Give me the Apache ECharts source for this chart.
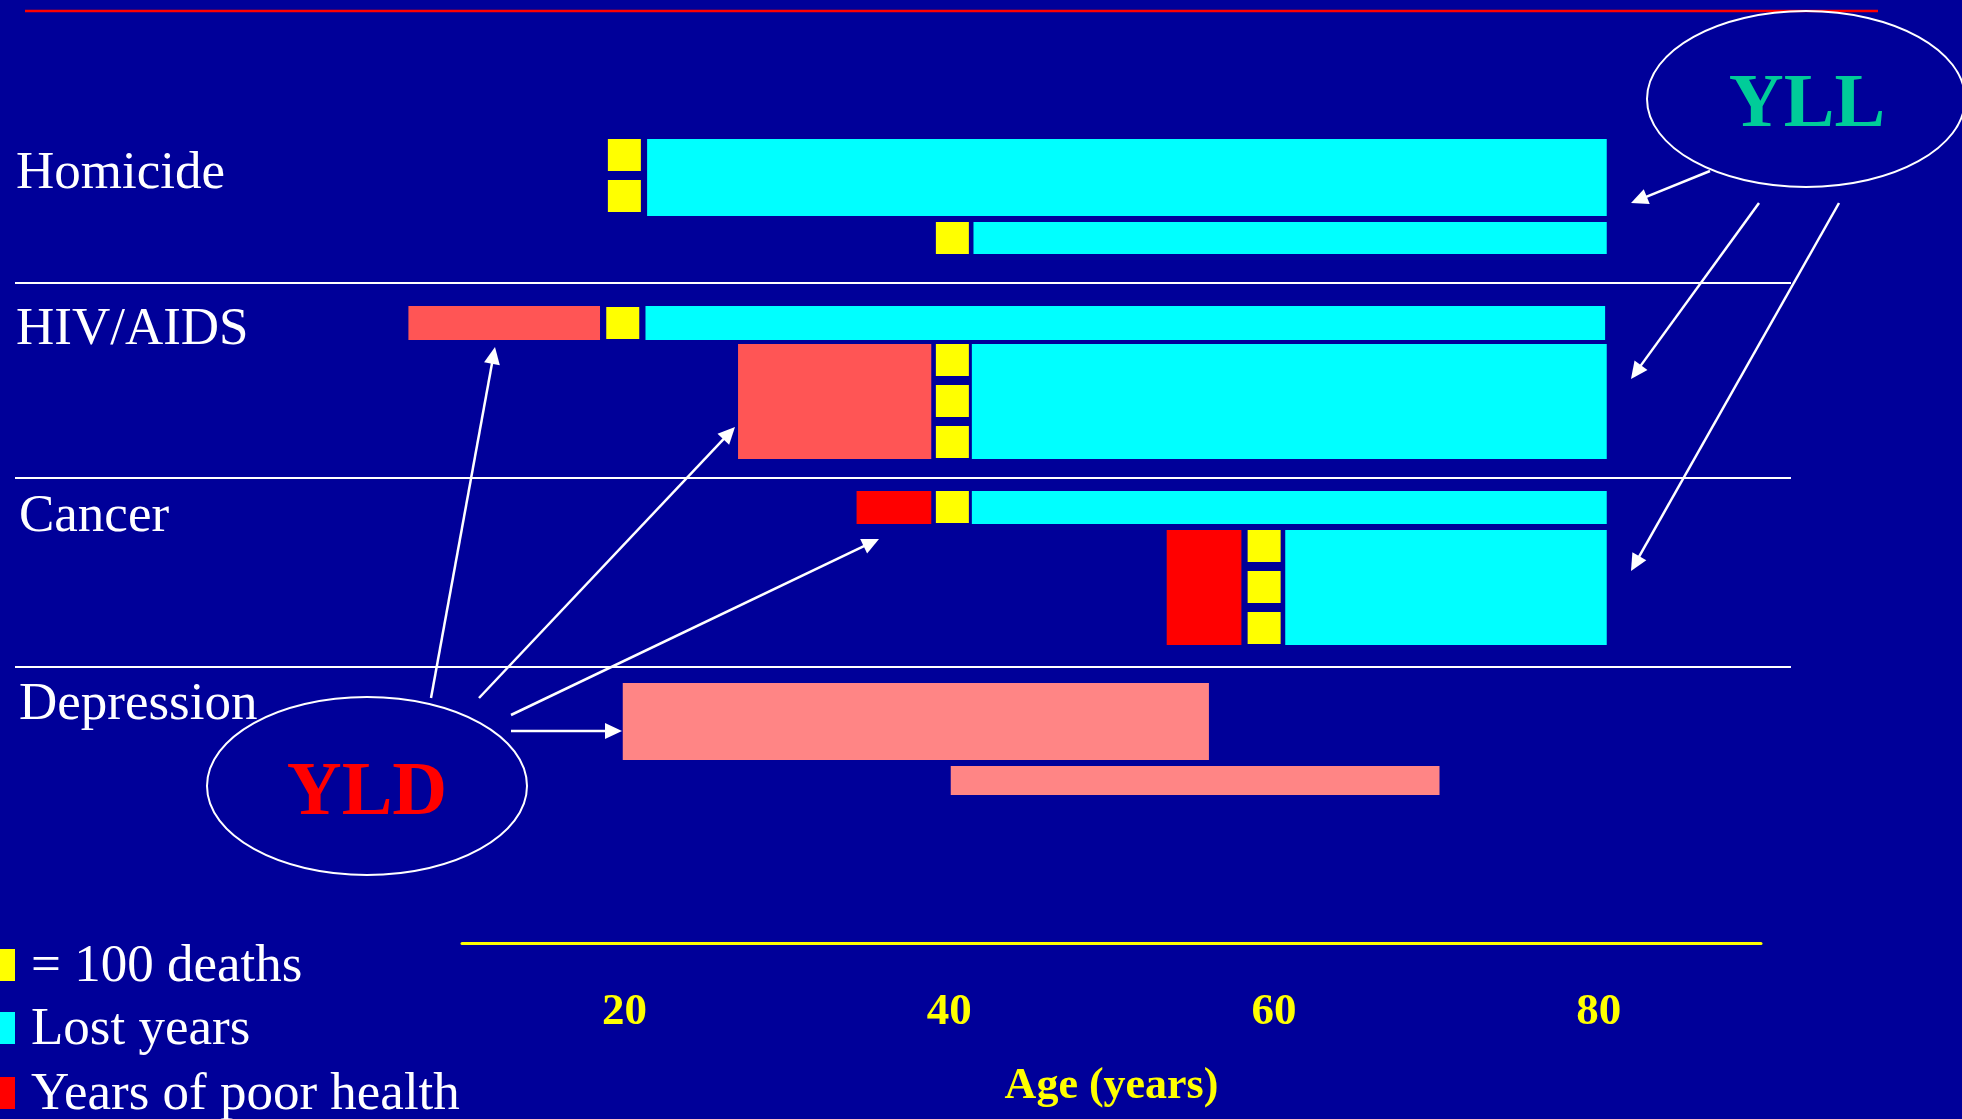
<!DOCTYPE html>
<html>
<head>
<meta charset="utf-8">
<script src="https://cdn.jsdelivr.net/npm/echarts@6/dist/echarts.min.js"></script>
<style>
html,body{margin:0;padding:0;background:#000099;}
#chart{width:1962px;height:1119px;}
</style>
</head>
<body>
<div id="chart"></div>
<script>
// ---------------- DATA ----------------
const causes = ['Homicide', 'HIV/AIDS', 'Cancer', 'Depression'];
// two example rows per cause
const rowCause = [0, 0, 1, 1, 2, 2, 3, 3];
// yellow squares: each = 100 deaths
const deaths100 = [2, 1, 1, 3, 1, 3, 0, 0];
const deathAge = [20, 40.2, 19.9, 40.2, 40.2, 59.4, null, null];
// lost years (cyan)
const lostStart = [21.4, 41.5, 21.3, 41.4, 41.4, 60.7, null, null];
const lostEnd = [80.5, 80.5, 80.4, 80.5, 80.5, 80.5, null, null];
// years of poor health (red)
const poorStart = [null, null, 6.7, 27.0, 34.3, 53.4, 19.9, 40.1];
const poorEnd = [null, null, 18.5, 38.9, 38.9, 58.0, 56.0, 70.2];
const ageTicks = [20, 40, 60, 80];
const legendLabels = ['= 100 deaths', 'Lost years', 'Years of poor health'];
const axisTitle = 'Age (years)';
const yllText = 'YLL';
const yldText = 'YLD';

// ---------------- LAYOUT / STYLE ----------------
const SERIF = '"Liberation Serif","Times New Roman",Times,serif';
const rowTop = [139, 222, 306, 344, 491, 530, 683, 766];
const rowH = [77, 32, 34, 115, 33, 115, 77, 29];
const poorColors = ['#FF5555', '#FF5555', '#FF0000', '#FF8585'];
const SQ = 33, SQH = 32, SQPITCH = 41;

const lostData = [], poorData = [], deathData = [];
for (let i = 0; i < rowCause.length; i++) {
  if (lostStart[i] != null) lostData.push([lostStart[i], lostEnd[i], i]);
  if (poorStart[i] != null) poorData.push([poorStart[i], poorEnd[i], i]);
  if (deaths100[i] > 0) deathData.push([deathAge[i], deaths100[i], i]);
}

function spanRender(colorFn) {
  return function (params, api) {
    const row = api.value(2);
    const x0 = api.coord([api.value(0), 0])[0];
    const x1 = api.coord([api.value(1), 0])[0];
    return {
      type: 'rect',
      shape: { x: x0, y: rowTop[row], width: x1 - x0, height: rowH[row] },
      style: { fill: colorFn(row) }
    };
  };
}

function deathRender(params, api) {
  const row = api.value(2);
  const n = api.value(1);
  const cx = api.coord([api.value(0), 0])[0];
  const children = [];
  for (let k = 0; k < n; k++) {
    children.push({
      type: 'rect',
      shape: { x: cx - SQ / 2, y: rowTop[row] + k * SQPITCH + (row === 2 ? 1 : 0), width: SQ, height: SQH },
      style: { fill: '#FFFF00' }
    });
  }
  return { type: 'group', children: children };
}

function txt(x, y, s, font, fill, align) {
  return {
    type: 'text', x: x, y: y, z: 10,
    style: { text: s, font: font, fill: fill, align: align || 'left', textAlign: align || 'left',
             verticalAlign: 'middle', textVerticalAlign: 'middle' }
  };
}

function arrow(x1, y1, x2, y2) {
  const dx = x2 - x1, dy = y2 - y1, L = Math.hypot(dx, dy), ux = dx / L, uy = dy / L;
  const hl = 17, hw = 8;
  const bx = x2 - ux * hl, by = y2 - uy * hl;
  return [
    { type: 'line', z: 10, shape: { x1: x1, y1: y1, x2: bx + ux * 2, y2: by + uy * 2 }, style: { stroke: '#FFFFFF', lineWidth: 2.5 } },
    { type: 'polygon', z: 10, shape: { points: [[x2, y2], [bx - uy * hw, by + ux * hw], [bx + uy * hw, by - ux * hw]] }, style: { fill: '#FFFFFF' } }
  ];
}

const graphics = [];
// top red rule
graphics.push({ type: 'line', shape: { x1: 25, y1: 11, x2: 1878, y2: 11 }, style: { stroke: '#FF0000', lineWidth: 2.5 } });
// separators
[283, 478, 667].forEach(function (y) {
  graphics.push({ type: 'line', shape: { x1: 15, y1: y, x2: 1791, y2: y }, style: { stroke: '#FFFFFF', lineWidth: 2 } });
});
// cause labels
const labelPos = [[16, 174], [16, 330], [19, 517], [19, 705]];
causes.forEach(function (c, i) {
  graphics.push(txt(labelPos[i][0], labelPos[i][1], c, '53px ' + SERIF, '#FFFFFF'));
});
// legend
const legendColors = ['#FFFF00', '#00FFFF', '#FF0000'];
const legendTop = [949, 1012, 1077];
legendLabels.forEach(function (l, i) {
  graphics.push({ type: 'rect', shape: { x: 0, y: legendTop[i], width: 15, height: 32 }, style: { fill: legendColors[i] } });
  graphics.push(txt(31, legendTop[i] + 18, l, '53px ' + SERIF, '#FFFFFF'));
});
// ellipses
graphics.push({ type: 'ellipse', shape: { cx: 1806, cy: 99, rx: 159, ry: 88 }, style: { fill: 'none', stroke: '#FFFFFF', lineWidth: 2 } });
graphics.push({ type: 'ellipse', shape: { cx: 367, cy: 786, rx: 160, ry: 89 }, style: { fill: 'none', stroke: '#FFFFFF', lineWidth: 2 } });
graphics.push(txt(1807, 106, yllText, 'bold 76px ' + SERIF, '#00CC99', 'center'));
graphics.push(txt(367, 794, yldText, 'bold 76px ' + SERIF, '#FF0000', 'center'));
// arrows
[
  [1710, 171, 1631, 203], [1759, 203, 1631, 379], [1839, 203, 1631, 571],
  [431, 698, 495, 347], [479, 698, 735, 427], [511, 715, 879, 539], [511, 731, 622, 731]
].forEach(function (a) { arrow(a[0], a[1], a[2], a[3]).forEach(function (g) { graphics.push(g); }); });

const chart = echarts.init(document.getElementById('chart'), null, { renderer: 'canvas' });
chart.setOption({
  backgroundColor: '#000099',
  animation: false,
  grid: { left: 462, right: 201, top: 0, bottom: 176, containLabel: false },
  xAxis: {
    type: 'value', min: 10, max: 90,
    name: axisTitle, nameLocation: 'middle', nameGap: 122,
    nameTextStyle: { color: '#FFFF00', fontWeight: 'bold', fontSize: 44, fontFamily: SERIF, lineHeight: 44 },
    axisLine: { show: true, onZero: false, lineStyle: { color: '#FFFF00', width: 3 } },
    axisTick: { show: false },
    splitLine: { show: false },
    axisLabel: {
      customValues: ageTicks, color: '#FFFF00', fontWeight: 'bold', fontSize: 45,
      fontFamily: SERIF, margin: 47, lineHeight: 45
    }
  },
  yAxis: { type: 'value', show: false, min: 0, max: 1 },
  series: [
    { type: 'custom', name: 'Years of poor health', clip: false, renderItem: spanRender(function (r) { return poorColors[rowCause[r]]; }), data: poorData, encode: { x: [0, 1] } },
    { type: 'custom', name: 'Lost years', clip: false, renderItem: spanRender(function () { return '#00FFFF'; }), data: lostData, encode: { x: [0, 1] } },
    { type: 'custom', name: '100 deaths', clip: false, renderItem: deathRender, data: deathData, encode: { x: 0 } }
  ],
  graphic: graphics
});
</script>
</body>
</html>
